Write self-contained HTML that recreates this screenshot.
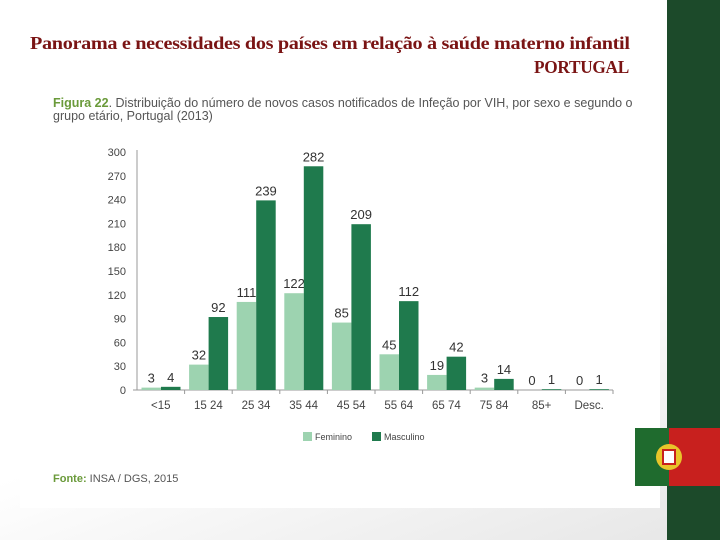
<!DOCTYPE html>
<html><head><meta charset="utf-8"><style>
body{margin:0;width:720px;height:540px;overflow:hidden;font-family:"Liberation Sans",sans-serif;background:linear-gradient(160deg,#fff 60%,#e6e6e6 100%);position:relative}
.t{position:absolute;font-family:"Liberation Serif",serif;color:#7a1414;font-size:18px;font-weight:bold;letter-spacing:-0.3px;white-space:nowrap;transform-origin:0 0}
</style></head><body>
<div id="tt" class="t" style="left:30px;top:33px">Panorama e necessidades dos países em relação à saúde materno infantil</div>
<div id="pt" class="t" style="left:535px;top:57px">PORTUGAL</div>
<div style="position:absolute;left:20px;top:86px;width:640px;height:422px;background:#fff"></div>
<div style="position:absolute;left:667px;top:0;width:53px;height:540px;background:#1c4a2a"></div>
<div style="position:absolute;left:635px;top:428px;width:85px;height:58px;background:#c8201e">
 <div style="position:absolute;left:0;top:0;width:34px;height:58px;background:#1f6b2e"></div>
 <div style="position:absolute;left:21px;top:16px;width:26px;height:26px;border-radius:50%;background:#e8c52a"></div>
 <div style="position:absolute;left:27px;top:21px;width:14px;height:16px;background:#fff;border:2px solid #c8201e;box-sizing:border-box"></div>
</div>
<svg id="c" width="720" height="540" style="position:absolute;left:0;top:0">
<text x="53" y="107" font-size="12.5" fill="#555"><tspan fill="#6a9a3a" font-weight="bold">Figura 22</tspan>. Distribuição do número de novos casos notificados de Infeção por VIH, por sexo e segundo o</text>
<text x="53" y="120" font-size="12.5" fill="#555">grupo etário, Portugal (2013)</text>
<text x="53" y="482" font-size="11" fill="#555"><tspan fill="#6a9a3a" font-weight="bold">Fonte:</tspan> INSA / DGS, 2015</text>
</svg>
<script>
const categories=["<15","15 24","25 34","35 44","45 54","55 64","65 74","75 84","85+","Desc."];
const feminino=[3,32,111,122,85,45,19,3,0,0];
const masculino=[4,92,239,282,209,112,42,14,1,1];
const ticks=[0,30,60,90,120,150,180,210,240,270,300];
(function(){const t=document.getElementById('tt');t.style.transform='scaleX('+(600/t.offsetWidth)+')';
const p=document.getElementById('pt');const s=95/p.offsetWidth;p.style.transform='scaleX('+s+')';p.style.left=(629-95)+'px';})();
const svg=document.getElementById('c');const NS='http://www.w3.org/2000/svg';
const x0=137,x1=613,y0=390,y1=152,ymax=300;
const y=v=>y0-(v/ymax)*(y0-y1);
const cw=(x1-x0)/categories.length;
function mk(t,a,txt){const e=document.createElementNS(NS,t);for(const k in a)e.setAttribute(k,a[k]);if(txt!=null)e.textContent=txt;svg.appendChild(e);return e;}
let ax=mk('line',{x1:x0,y1:y1-2,x2:x0,y2:y0,stroke:'#999'});


let bx=mk('line',{x1:x0-4,y1:y0,x2:x1,y2:y0,stroke:'#999'});


ticks.forEach(t=>{const e=mk('text',{x:x0-11,y:y(t)+4,'font-size':11,fill:'#444','text-anchor':'end'},t);

});
categories.forEach((c,i)=>{
 const cx=x0+cw*i;
 mk('line',{x1:cx+cw,y1:y0,x2:cx+cw,y2:y0+4,stroke:'#999'});
 const l=mk('text',{x:cx+cw/2,y:y0+19,'font-size':11.5,fill:'#444','text-anchor':'middle'},c);
 
 
 const bw=19.5;
 [[feminino[i],'#9dd3b0',cx+4.5,'bar-feminino'],[masculino[i],'#1f7a4d',cx+4.5+bw,'bar-masculino']].forEach(([v,col,bx2,nm])=>{
  const r=mk('rect',{x:bx2,y:y(v),width:bw,height:y0-y(v),fill:col});
  
  
  const tl=mk('text',{x:bx2+bw/2,y:y(v)-5,'font-size':13,fill:'#333','text-anchor':'middle'},v);
  
  
 });
});
[['Feminino','#9dd3b0',303],['Masculino','#1f7a4d',372]].forEach(([n,c,lx])=>{
 const r=mk('rect',{x:lx,y:432,width:9,height:9,fill:c});
 
 
 const t=mk('text',{x:lx+12,y:440,'font-size':9,fill:'#444'},n);
 
 
});
</script>
</body></html>
